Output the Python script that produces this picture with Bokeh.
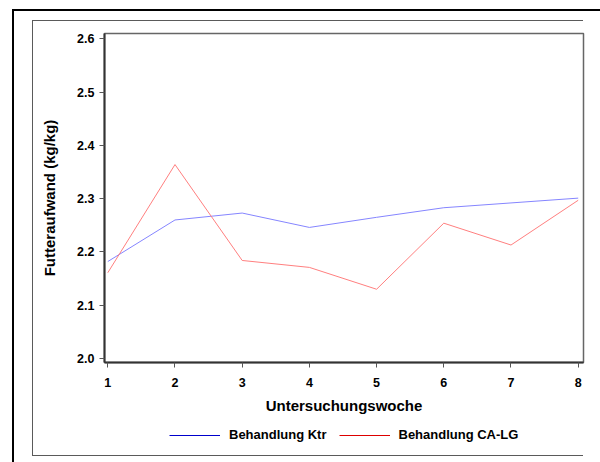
from bokeh.plotting import figure
from bokeh.layouts import column
from bokeh.models import (ColumnDataSource, FixedTicker, NumeralTickFormatter, Legend,
                          LegendItem, Range1d)
from bokeh.embed import file_html
from bokeh.resources import INLINE

# ---- data ----
weeks = [1, 2, 3, 4, 5, 6, 7, 8]
ktr = [2.182, 2.260, 2.273, 2.246, 2.265, 2.283, 2.292, 2.301]
calg = [2.161, 2.364, 2.184, 2.171, 2.130, 2.254, 2.213, 2.297]
x_ticks = [1, 2, 3, 4, 5, 6, 7, 8]
y_ticks = [2.0, 2.1, 2.2, 2.3, 2.4, 2.5, 2.6]
series_names = ["Behandlung Ktr", "Behandlung CA-LG"]
x_title = "Untersuchungswoche"
y_title = "Futteraufwand (kg/kg)"

FONT = "Liberation Sans"
W = 600
H1 = 420          # main chart height
H2 = 42           # legend strip height


def strips(specs):
    """CSS background strips: list of (color, x, y, w, h)."""
    return {
        "background-color": "transparent",
        "background-image": ", ".join(f"linear-gradient({c},{c})" for c, *_ in specs),
        "background-position": ", ".join(f"{x}px {y}px" for _, x, y, _, _ in specs),
        "background-size": ", ".join(f"{w}px {h}px" for *_, w, h in specs),
        "background-repeat": "no-repeat",
    }


GRAY = "#5a5a5a"
p_css = strips([("#000", 12, 9, 600, 2), ("#000", 12, 9, 2, H1),
                (GRAY, 32, 20, 551, 1), (GRAY, 32, 20, 1, H1)])
leg_css = strips([("#000", 12, 0, 2, H2), (GRAY, 32, 0, 1, 36),
                  (GRAY, 32, 35, 551, 1)])

p = figure(width=W, height=H1, output_backend="svg", toolbar_location=None,
           x_range=Range1d(0.951, 8.079), y_range=Range1d(1.9925, 2.610),
           min_border_left=104, min_border_right=17, min_border_top=33,
           min_border_bottom=H1 - 362,
           background_fill_color="white", border_fill_alpha=0, styles=p_css)
p.xgrid.visible = False
p.ygrid.visible = False
p.outline_line_color = "#666666"
p.outline_line_width = 1.5

src = ColumnDataSource(dict(w=weeks, ktr=ktr, calg=calg))
p.line("w", "ktr", source=src, line_color="#8585ff", line_width=1)
p.line("w", "calg", source=src, line_color="#ff7f7f", line_width=1)

for ax in (p.xaxis[0], p.yaxis[0]):
    ax.axis_line_color = "#333333"
    ax.axis_line_width = 2
    ax.major_tick_line_color = "#555555"
    ax.major_tick_line_width = 1
    ax.major_tick_out = 5
    ax.major_tick_in = 0
    ax.minor_tick_line_color = None
    ax.major_label_text_font = FONT
    ax.major_label_text_font_style = "bold"
    ax.major_label_text_font_size = "12.5px"
    ax.major_label_text_color = "black"
    ax.axis_label_text_font = FONT
    ax.axis_label_text_font_style = "bold"
    ax.axis_label_text_font_size = "15px"
    ax.axis_label_text_color = "black"

p.xaxis[0].ticker = FixedTicker(ticks=x_ticks)
p.yaxis[0].ticker = FixedTicker(ticks=y_ticks)
p.yaxis[0].formatter = NumeralTickFormatter(format="0.0")
p.xaxis[0].axis_label = x_title
p.yaxis[0].axis_label = y_title
p.xaxis[0].major_label_standoff = 10
p.yaxis[0].major_label_standoff = 5
p.xaxis[0].axis_label_standoff = 7
p.yaxis[0].axis_label_standoff = 16

# ---- legend strip (its frame is aligned with the chart frame: x 104..583) ----
# The same series are drawn here in the darker legend colours; the strip's
# y range (0..1) lies outside the data, so only the legend swatches show.
leg = figure(width=W, height=H2, output_backend="svg", toolbar_location=None,
             x_axis_location=None, y_axis_location=None,
             x_range=Range1d(0.951, 8.079), y_range=Range1d(0, 1),
             min_border_left=104, min_border_right=17, min_border_top=0,
             min_border_bottom=0, outline_line_color=None,
             background_fill_alpha=0, border_fill_alpha=0, styles=leg_css)
leg.xgrid.visible = False
leg.ygrid.visible = False
r1 = leg.line("w", "ktr", source=src, line_color="#0000cc", line_width=1)
r2 = leg.line("w", "calg", source=src, line_color="#dd0000", line_width=1)
legend = Legend(items=[LegendItem(label=series_names[0], renderers=[r1]),
                       LegendItem(label=series_names[1], renderers=[r2])],
                orientation="horizontal", location=(65, 20),
                border_line_color=None, background_fill_alpha=0,
                label_text_font=FONT, label_text_font_style="bold",
                label_text_color="black", label_text_font_size="13px",
                glyph_width=51, glyph_height=14, label_height=14,
                label_standoff=9, spacing=12, padding=0, margin=0)
leg.add_layout(legend, "center")

layout = column(p, leg, spacing=0)

open("out.html", "w").write(file_html(layout, INLINE))
